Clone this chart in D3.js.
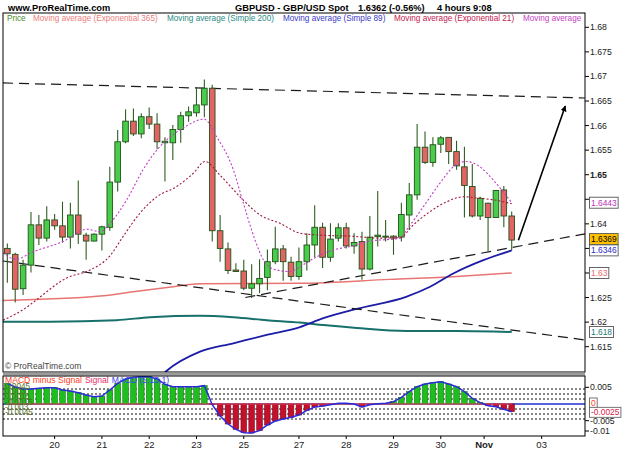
<!DOCTYPE html>
<html>
<head>
<meta charset="utf-8">
<script src="https://cdnjs.cloudflare.com/ajax/libs/d3/7.8.5/d3.min.js"></script>
<style>
body { margin: 0; background: #fff; }
svg { display: block; font-family: "Liberation Sans", Arial, sans-serif; }
</style>
</head>
<body>
<svg id="chart" width="625" height="469"></svg>
<script>
// GBPUSD 4h bars, index 0 = first bar on screen (19 Oct)
var candleOpen  = [1.6350,1.6338,1.6268,1.6316,1.6398,1.6371,1.6408,1.6396,1.6373,1.6418,1.6377,1.6365,1.6379,1.6393,1.6485,1.6567,1.6609,1.6583,1.6618,1.6603,1.6565,1.6565,1.6592,1.6620,1.6626,1.6642,1.6676,1.6386,1.6349,1.6306,1.6304,1.6269,1.6278,1.6291,1.6323,1.6349,1.6322,1.6293,1.6323,1.6357,1.6393,1.6332,1.6371,1.6392,1.6355,1.6364,1.6308,1.6374,1.6373,1.6375,1.6373,1.6418,1.6459,1.6556,1.6525,1.6562,1.6576,1.6547,1.6516,1.6476,1.6416,1.6442,1.6413,1.6469,1.6416];
var candleHigh  = [1.6360,1.6341,1.6327,1.6424,1.6418,1.6436,1.6420,1.6445,1.6443,1.6488,1.6382,1.6381,1.6396,1.6516,1.6591,1.6633,1.6635,1.6625,1.6637,1.6625,1.6576,1.6601,1.6628,1.6639,1.6678,1.6694,1.6683,1.6418,1.6362,1.6320,1.6327,1.6318,1.6328,1.6348,1.6394,1.6357,1.6333,1.6352,1.6381,1.6438,1.6402,1.6401,1.6401,1.6402,1.6381,1.6384,1.6416,1.6467,1.6408,1.6377,1.6443,1.6483,1.6603,1.6588,1.6576,1.6579,1.6576,1.6569,1.6557,1.6522,1.6455,1.6443,1.6469,1.6477,1.6425];
var candleLow   = [1.6280,1.6240,1.6255,1.6301,1.6357,1.6364,1.6388,1.6362,1.6350,1.6359,1.6327,1.6364,1.6346,1.6386,1.6466,1.6564,1.6579,1.6574,1.6593,1.6552,1.6486,1.6530,1.6565,1.6608,1.6618,1.6617,1.6364,1.6323,1.6298,1.6302,1.6265,1.6249,1.6259,1.6265,1.6318,1.6284,1.6284,1.6286,1.6305,1.6332,1.6310,1.6323,1.6364,1.6350,1.6339,1.6286,1.6305,1.6354,1.6364,1.6337,1.6364,1.6388,1.6449,1.6522,1.6516,1.6544,1.6522,1.6510,1.6413,1.6413,1.6408,1.6343,1.6413,1.6393,1.6346];
var candleClose = [1.6339,1.6267,1.6316,1.6398,1.6371,1.6408,1.6396,1.6373,1.6418,1.6379,1.6365,1.6379,1.6394,1.6485,1.6567,1.6609,1.6583,1.6618,1.6603,1.6567,1.6568,1.6592,1.6620,1.6628,1.6642,1.6676,1.6386,1.6350,1.6305,1.6303,1.6269,1.6278,1.6289,1.6323,1.6349,1.6323,1.6293,1.6323,1.6357,1.6393,1.6332,1.6369,1.6392,1.6355,1.6362,1.6308,1.6373,1.6377,1.6375,1.6371,1.6419,1.6459,1.6556,1.6525,1.6561,1.6575,1.6547,1.6518,1.6478,1.6416,1.6452,1.6413,1.6468,1.6416,1.6367];

// MACD histogram, one value per bar
var macdValues = [0.0061,0.0051,0.0045,0.0045,0.0047,0.0049,0.0049,0.0042,0.0039,0.0034,0.0027,0.0022,0.0024,0.0042,0.0062,0.0075,0.0080,0.0082,0.0082,0.0075,0.0059,0.0052,0.0052,0.0052,0.0052,0.0055,-0.0002,-0.0036,-0.0060,-0.0076,-0.0086,-0.0087,-0.0080,-0.0063,-0.0051,-0.0045,-0.0040,-0.0033,-0.0019,-0.0009,-0.0006,-0.0002,0.0002,0.0002,0.0000,-0.0009,-0.0002,0.0001,0.0002,0.0007,0.0020,0.0037,0.0052,0.0060,0.0064,0.0067,0.0060,0.0052,0.0037,0.0017,0.0004,-0.0005,-0.0008,-0.0016,-0.0023];

// moving averages: [bar index, price]
var maShort = [[-0.55,1.6341],[1.07,1.6328],[3.26,1.6343],[7.07,1.6364],[10.07,1.6389],[11.76,1.6384],[13.03,1.6401],[15.15,1.6449],[17.22,1.6510],[18.96,1.6550],[20.23,1.6571],[22.29,1.6595],[24.96,1.6613],[26.57,1.6577],[28.68,1.6510],[29.95,1.6442],[31.43,1.6367],[32.48,1.6327],[33.75,1.6308],[35.87,1.6303],[37.14,1.6313],[39.26,1.6333],[41.37,1.6347],[43.48,1.6354],[45.6,1.6364],[49.83,1.6371],[50.68,1.6388],[52.79,1.6435],[54.9,1.6483],[56.59,1.6516],[58.2,1.6527],[59.98,1.6516],[61.67,1.6489],[64,1.6443]];
var maExp21 = [[-0.55,1.6204],[2.25,1.6228],[3.51,1.6243],[7.54,1.6290],[10.49,1.6306],[13.03,1.6335],[14.72,1.6375],[16.84,1.6422],[18.96,1.6455],[21.49,1.6476],[23.6,1.6503],[25.09,1.6527],[26.99,1.6499],[29.53,1.6455],[32.07,1.6418],[34.6,1.6401],[37.14,1.6381],[39.68,1.6377],[43.48,1.6375],[47.29,1.6371],[49.83,1.6372],[51.52,1.6398],[53.64,1.6425],[55.76,1.6445],[57.86,1.6455],[59.98,1.6452],[61.67,1.6449],[64,1.6441]];
var maSimple89 = [[19.5,1.6090],[20.23,1.6101],[24.45,1.6140],[28.68,1.6157],[32.91,1.6174],[37.14,1.6190],[40.1,1.6208],[44.34,1.6227],[50.68,1.6252],[53.64,1.6272],[56.59,1.6299],[60.4,1.6326],[64,1.6346]];
var maSimple200 = [[-0.55,1.6201],[5.42,1.6201],[13.88,1.6204],[18.11,1.6210],[24.45,1.6213],[28.68,1.6210],[32.91,1.6204],[37.14,1.6199],[40.1,1.6194],[44.34,1.6188],[50.68,1.6182],[57.02,1.6182],[64,1.6180]];
var maExp365 = [[-0.55,1.6244],[11.76,1.6253],[15.95,1.6262],[21.03,1.6272],[24.45,1.6278],[37.14,1.6279],[48.56,1.6287],[57.02,1.6293],[64,1.6300]];

// hand-drawn trend lines and arrow: [bar index, price]
var trendTop = [[-0.55,1.66867],[73.3,1.66561]];
var trendDown = [[-0.55,1.63244],[73.3,1.61637]];
var trendUp = [[30.2,1.62501],[73.3,1.63798]];
var arrowLine = [[64.85,1.63667],[70.8,1.66398]];

var priceTicks = [1.68,1.675,1.67,1.665,1.66,1.655,1.65,1.645,1.64,1.635,1.63,1.625,1.62,1.615];
var macdTicks = [0.005,-0.005,-0.01];
var macdLevels = [0.0045,0.003,0.0015,-0.0015,-0.003,-0.0045];
var macdLevelLabels = ['0.0045','0.003','0.0015','-0.0015','-0.003','-0.0045'];
var dayLabels = ['20','21','22','23','25','27','28','29','30','Nov','03'];
var dayIndex = [6,12,18,24,30,37,43,49,55,60.5,67.8];

var tagValues = [1.6443,1.6369,1.6346,1.63,1.618];
var tagTexts = ['1.6443','1.6369','1.6346','1.63','1.618'];

var legendNames = ['Price','Moving average (Exponential 365)','Moving average (Simple 200)','Moving average (Simple 89)','Moving average (Exponential 21)','Moving average'];
var legendColors = ['#4c8c2c','#ee7c7c','#2a8a86','#3a3ac4','#c42050','#c444c4'];
var legendX = [7,33,167,283,394,523];

var svg = d3.select('#chart');
var plot = { left: 3, right: 585, top: 13, bottom: 372 };
var macdArea = { top: 376, bottom: 436 };

var x = d3.scaleLinear().domain([-0.55, 73.3]).range([plot.left, plot.right]);
var y = d3.scaleLinear().domain([1.60985, 1.68291]).range([plot.bottom, plot.top]);
var ym = d3.scaleLinear().domain([-0.0096, 0.0087]).range([macdArea.bottom, 375]);

svg.append('defs').append('clipPath').attr('id', 'plotClip')
    .append('rect').attr('x', plot.left).attr('y', plot.top)
    .attr('width', plot.right - plot.left).attr('height', plot.bottom - plot.top);

var marker = svg.select('defs').append('marker')
    .attr('id', 'arrowHead').attr('viewBox', '0 0 10 10')
    .attr('refX', 9).attr('refY', 5)
    .attr('markerWidth', 6).attr('markerHeight', 6)
    .attr('markerUnits', 'userSpaceOnUse')
    .attr('orient', 'auto');
marker.append('path').attr('d', 'M0,0L10,5L0,10Z').attr('fill', '#000');

// header
svg.append('text').attr('x', 8).attr('y', 10.5).attr('font-size', 9.3).attr('font-weight', 'bold').text('www.ProRealTime.com');
var headParts = ['GBPUSD - GBP/USD Spot', '1.6362 (-0.56%)', '4 hours', '9:08'];
var headX = [235, 358, 437, 473];
headParts.forEach(function (t, i) {
    svg.append('text').attr('x', headX[i]).attr('y', 10.5).attr('font-size', 9.3).attr('font-weight', 'bold').text(t);
});
legendNames.forEach(function (t, i) {
    svg.append('text').attr('x', legendX[i]).attr('y', 21).attr('font-size', 8.2)
        .attr('fill', legendColors[i]).text(t);
});

var main = svg.append('g').attr('clip-path', 'url(#plotClip)');

function maLine(pts, color, width, dash) {
    var line = d3.line().x(function (d) { return x(d[0]); }).y(function (d) { return y(d[1]); }).curve(d3.curveMonotoneX);
    main.append('path').datum(pts).attr('d', line).attr('fill', 'none')
        .attr('stroke', color).attr('stroke-width', width)
        .attr('stroke-dasharray', dash || null);
}

maLine(maExp365, '#e87474', 1.5);
maLine(maSimple200, '#17706b', 2);
maLine(maSimple89, '#1c1ca6', 1.8);

function trend(pts) {
    main.append('line')
        .attr('x1', x(pts[0][0])).attr('y1', y(pts[0][1]))
        .attr('x2', x(pts[1][0])).attr('y2', y(pts[1][1]))
        .attr('stroke', '#1a1a1a').attr('stroke-width', 1.2).attr('stroke-dasharray', '10,6');
}
trend(trendTop);
trend(trendDown);
trend(trendUp);

// candles
var bars = d3.range(candleOpen.length);
main.selectAll('line.wick').data(bars).enter().append('line')
    .attr('class', 'wick')
    .attr('x1', function (i) { return x(i); }).attr('x2', function (i) { return x(i); })
    .attr('y1', function (i) { return y(candleHigh[i]); })
    .attr('y2', function (i) { return y(candleLow[i]); })
    .attr('stroke', '#2f5e22').attr('stroke-width', 1.1);
main.selectAll('rect.body').data(bars).enter().append('rect')
    .attr('class', 'body')
    .attr('x', function (i) { return x(i) - 2.8; })
    .attr('width', 5.6)
    .attr('y', function (i) { return y(Math.max(candleOpen[i], candleClose[i])); })
    .attr('height', function (i) { return Math.max(1, Math.abs(y(candleOpen[i]) - y(candleClose[i]))); })
    .attr('fill', function (i) { return candleClose[i] >= candleOpen[i] ? '#49cc49' : '#e26464'; })
    .attr('stroke', '#22501a').attr('stroke-width', 0.9);

maLine(maExp21, '#a0183e', 1.1, '2,2');
maLine(maShort, '#c23cc8', 1.1, '2,2');

main.append('line')
    .attr('x1', x(arrowLine[0][0])).attr('y1', y(arrowLine[0][1]))
    .attr('x2', x(arrowLine[1][0])).attr('y2', y(arrowLine[1][1]))
    .attr('stroke', '#000').attr('stroke-width', 1.6).attr('marker-end', 'url(#arrowHead)');

svg.append('text').attr('x', 5).attr('y', 369).attr('font-size', 8.5).attr('fill', '#444').text('\u00a9 ProRealTime.com');

// frames
svg.append('rect').attr('x', plot.left).attr('y', plot.top)
    .attr('width', plot.right - plot.left).attr('height', plot.bottom - plot.top)
    .attr('fill', 'none').attr('stroke', '#000').attr('stroke-width', 1);
svg.append('rect').attr('x', plot.left).attr('y', 372.8).attr('width', plot.right - plot.left).attr('height', 2.6).attr('fill', '#9c9c9c');

// price axis; labels that sit under a value tag are left out, as on the original
var priceAxis = svg.append('g');
priceTicks.forEach(function (v) {
    var yy = y(v);
    priceAxis.append('line').attr('x1', plot.right).attr('x2', plot.right + 4)
        .attr('y1', yy).attr('y2', yy).attr('stroke', '#000');
    var covered = tagValues.some(function (tv) { return Math.abs(y(tv) - yy) < 7; });
    if (covered) {
        return;
    }
    priceAxis.append('text').attr('x', plot.right + 5).attr('y', yy + 3)
        .attr('font-size', 8.7).attr('font-weight', v === 1.65 ? 'bold' : 'normal')
        .attr('fill', '#222').text(String(v));
});

var tagStyle = [
    { fill: '#fff', color: '#c030c0' },
    { fill: '#ffc000', color: '#000' },
    { fill: '#fff', color: '#2a2ac8' },
    { fill: '#fff', color: '#ec6c6c' },
    { fill: '#fff', color: '#1d7a76' }
];
tagValues.forEach(function (v, i) {
    var yy = y(v);
    var g = svg.append('g');
    var t = g.append('text').attr('x', plot.right + 6).attr('y', yy + 3)
        .attr('font-size', 8.4).attr('fill', tagStyle[i].color).text(tagTexts[i]);
    var w = t.node().getComputedTextLength();
    g.insert('rect', 'text').attr('x', plot.right + 4.5).attr('y', yy - 5.5)
        .attr('width', w + 3).attr('height', 11)
        .attr('fill', tagStyle[i].fill).attr('stroke', '#555').attr('stroke-width', 0.9);
});

// MACD panel
var macd = svg.append('g');
macd.append('line').attr('x1', plot.left).attr('x2', plot.right).attr('y1', ym(0)).attr('y2', ym(0))
    .attr('stroke', '#2030d0').attr('stroke-width', 1.4);
macdLevels.forEach(function (v) {
    macd.append('line').attr('x1', plot.left).attr('x2', plot.right).attr('y1', ym(v)).attr('y2', ym(v))
        .attr('stroke', '#111').attr('stroke-width', 1).attr('stroke-dasharray', '2,2');
});
macd.selectAll('rect.hist').data(bars).enter().append('rect')
    .attr('class', 'hist')
    .attr('x', function (i) { return x(i) - 2.8; })
    .attr('width', 5.6)
    .attr('y', function (i) { return Math.min(ym(0), ym(macdValues[i])); })
    .attr('height', function (i) { return Math.abs(ym(macdValues[i]) - ym(0)); })
    .attr('fill', function (i) { return macdValues[i] >= 0 ? '#1fbe1f' : '#c4102c'; })
    .attr('stroke', function (i) { return macdValues[i] >= 0 ? '#127a12' : '#7c0a1c'; })
    .attr('stroke-width', 0.6);
macd.append('line').attr('x1', x(0)).attr('x2', x(macdValues.length - 1))
    .attr('y1', ym(0)).attr('y2', ym(0)).attr('stroke', '#ff4040').attr('stroke-width', 1);
macd.append('path').datum(macdValues)
    .attr('d', d3.line().x(function (d, i) { return x(i); }).y(function (d) { return ym(d); }))
    .attr('fill', 'none').attr('stroke', '#2b2bdc').attr('stroke-width', 1.5);

macdLevels.forEach(function (v, i) {
    macd.append('text').attr('x', 5).attr('y', ym(v) + (v > 0 ? 0 : -4))
        .attr('font-size', 8.2).attr('fill', '#56702a').text(macdLevelLabels[i]);
});

var macdTitles = ['MACD minus Signal', 'Signal', 'MACD (5,13,1)'];
var macdTitleColors = ['#ff3c1c', '#e8306a', '#4242f0'];
var titleX = 5;
macdTitles.forEach(function (t, i) {
    var node = macd.append('text').attr('x', titleX).attr('y', 383).attr('font-size', 8.6)
        .attr('fill', macdTitleColors[i]).text(t);
    titleX += node.node().getComputedTextLength() + 3;
});

svg.append('rect').attr('x', plot.left).attr('y', macdArea.top)
    .attr('width', plot.right - plot.left).attr('height', macdArea.bottom - macdArea.top)
    .attr('fill', 'none').attr('stroke', '#000').attr('stroke-width', 1);

macdTicks.forEach(function (v) {
    var yy = Math.min(ym(v), 431);
    svg.append('line').attr('x1', plot.right).attr('x2', plot.right + 4)
        .attr('y1', yy).attr('y2', yy).attr('stroke', '#000');
    svg.append('text').attr('x', plot.right + 5).attr('y', yy + 3)
        .attr('font-size', 8.7).attr('fill', '#222').text(String(v));
});

var macdTags = [{ v: 0, text: '0', color: '#ff4020', dy: -1 }, { v: -0.0025, text: '-0.0025', color: '#e0204a', dy: 0 }];
macdTags.forEach(function (tg) {
    var yy = ym(tg.v) + tg.dy;
    var g = svg.append('g');
    var t = g.append('text').attr('x', plot.right + 6).attr('y', yy + 3)
        .attr('font-size', 8.4).attr('fill', tg.color).text(tg.text);
    var w = t.node().getComputedTextLength();
    g.insert('rect', 'text').attr('x', plot.right + 4.5).attr('y', yy - 5)
        .attr('width', w + 3).attr('height', 10)
        .attr('fill', '#fff').attr('stroke', '#666').attr('stroke-width', 0.9);
});

// date axis
dayLabels.forEach(function (t, i) {
    var xx = x(dayIndex[i]);
    svg.append('line').attr('x1', xx).attr('x2', xx).attr('y1', macdArea.bottom).attr('y2', macdArea.bottom + 3)
        .attr('stroke', '#000');
    svg.append('text').attr('x', xx).attr('y', 448).attr('text-anchor', 'middle')
        .attr('font-size', 9.5).attr('font-weight', t === 'Nov' ? 'bold' : 'normal')
        .attr('fill', '#222').text(t);
});
</script>
</body>
</html>
